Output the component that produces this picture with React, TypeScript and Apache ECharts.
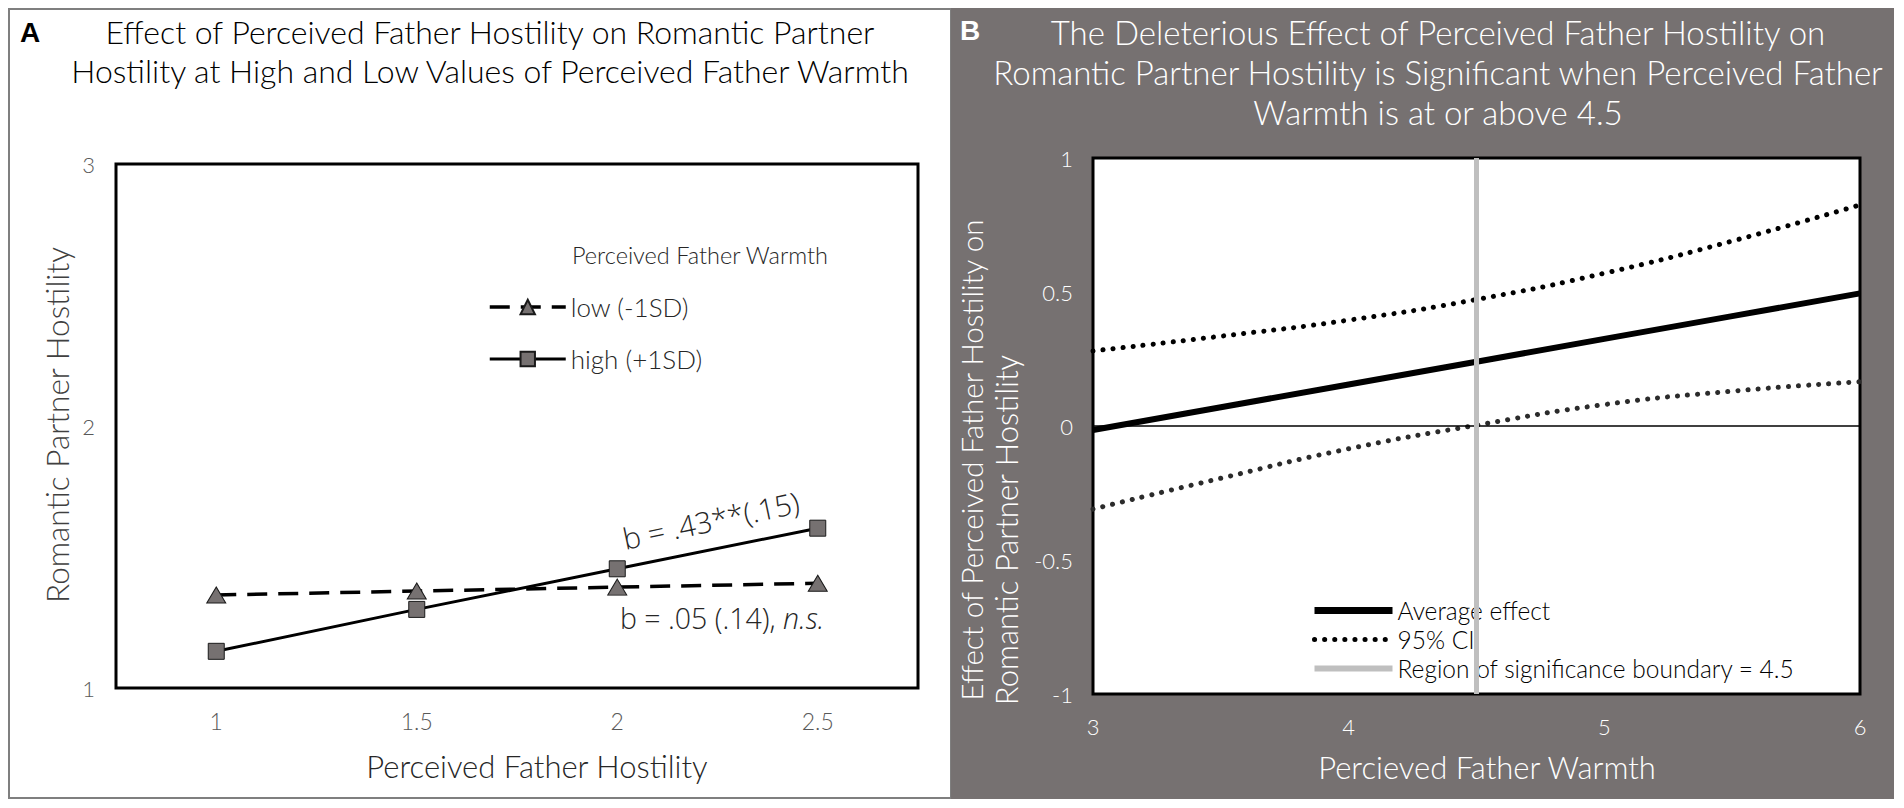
import React, { useEffect, useRef } from "react";
import * as echarts from "echarts";

// ---------- Panel A data ----------
const hostilityCategories = ["1", "1.5", "2", "2.5"];
const lowWarmthValues = [1.355, 1.37, 1.385, 1.4];
const highWarmthValues = [1.14, 1.3, 1.455, 1.61];
const panelAYRange = [1, 3];

// ---------- Panel B data ----------
const warmthPoints = [3, 3.5, 4, 4.5, 5, 5.5, 6];
const averageEffect = [-0.015, 0.07, 0.155, 0.24, 0.325, 0.41, 0.495];
const ciUpper = [0.28, 0.335, 0.395, 0.472, 0.57, 0.69, 0.825];
const ciLower = [-0.31, -0.195, -0.085, 0.003, 0.08, 0.13, 0.165];
const boundaryWarmth = 4.5;
const effectRange = [-1, 1];
const warmthRange = [3, 6];

const F = "Lato, 'Open Sans', sans-serif";
const FW = "'Open Sans', Lato, sans-serif";

function txt(
  text: string,
  x: number,
  y: number,
  size: number,
  fill: string,
  extra: any = {}
) {
  const { rotation, align, weight, family, rich, lineHeight } = extra;
  return {
    type: "text",
    x,
    y,
    rotation: rotation || 0,
    z: 10,
    silent: true,
    style: {
      text,
      fill,
      fontSize: size,
      fontFamily: family || F,
      fontWeight: weight || 300,
      align: align || "center",
      verticalAlign: "middle",
      lineHeight,
      rich,
    },
  };
}

export default function App() {
  const ref = useRef<HTMLDivElement>(null);
  useEffect(() => {
    if (!ref.current) return;
    const chart = echarts.init(ref.current, undefined, { renderer: "svg" });
    const white = "#ffffff";
    const hidden = { color: "rgba(0,0,0,0)", borderWidth: 0, opacity: 0 };
    const option: any = {
      animation: false,
      backgroundColor: "#ffffff",
      textStyle: { fontFamily: F },
      grid: [
        {
          left: 116,
          top: 164,
          width: 802,
          height: 524,
          show: true,
          backgroundColor: "#ffffff",
          borderColor: "#000000",
          borderWidth: 3,
          z: 1,
        },
        {
          left: 1093,
          top: 158,
          width: 767,
          height: 536,
          show: true,
          backgroundColor: "#ffffff",
          borderColor: "#000000",
          borderWidth: 3,
          z: 1,
        },
      ],
      xAxis: [
        {
          type: "category",
          gridIndex: 0,
          data: hostilityCategories,
          boundaryGap: true,
          axisLine: { show: false },
          axisTick: { show: false },
          splitLine: { show: false },
          axisLabel: { color: "#595959", fontSize: 23, margin: 21, fontWeight: 300 },
        },
        {
          type: "value",
          gridIndex: 1,
          min: warmthRange[0],
          max: warmthRange[1],
          interval: 1,
          axisLine: { show: false },
          axisTick: { show: false },
          splitLine: { show: false },
          axisLabel: { color: white, fontSize: 22, margin: 21, fontWeight: 300 },
        },
      ],
      yAxis: [
        {
          type: "value",
          gridIndex: 0,
          min: panelAYRange[0],
          max: panelAYRange[1],
          interval: 1,
          axisLine: { show: false },
          axisTick: { show: false },
          splitLine: { show: false },
          axisLabel: { color: "#595959", fontSize: 22, margin: 21, fontWeight: 300 },
        },
        {
          type: "value",
          gridIndex: 1,
          min: effectRange[0],
          max: effectRange[1],
          interval: 0.5,
          axisLine: { show: false },
          axisTick: { show: false },
          splitLine: { show: false },
          axisLabel: { color: white, fontSize: 22, margin: 20, fontWeight: 300 },
        },
      ],
      legend: [
        {
          data: [
            { name: "low (-1SD)", lineStyle: { width: 3.5 } },
            { name: "high (+1SD)", lineStyle: { width: 3 } },
          ],
          orient: "vertical",
          left: 483,
          top: 289,
          itemWidth: 76,
          itemHeight: 18,
          itemGap: 26,
          selectedMode: false,
          textStyle: { color: "#262626", fontSize: 26, fontWeight: 300, fontFamily: F },
        },
        {
          data: [
            { name: "Average effect", lineStyle: { width: 7 } },
            { name: "95% CI", lineStyle: { width: 5 } },
            { name: "Region of significance boundary = 4.5", lineStyle: { width: 6 } },
          ],
          orient: "vertical",
          left: 1306,
          top: 593,
          itemWidth: 78,
          itemHeight: 14,
          itemGap: 4,
          selectedMode: false,
          itemStyle: hidden,
          textStyle: { color: "#000000", fontSize: 24.5, fontWeight: 300, fontFamily: F },
        },
      ],
      series: [
        {
          name: "low (-1SD)",
          type: "line",
          xAxisIndex: 0,
          yAxisIndex: 0,
          data: lowWarmthValues,
          symbol: "triangle",
          symbolSize: [19, 16],
          lineStyle: { color: "#000000", width: 3.5, type: [20, 11] },
          itemStyle: { color: "#767171", borderColor: "#1a1a1a", borderWidth: 1 },
          z: 3,
        },
        {
          name: "high (+1SD)",
          type: "line",
          xAxisIndex: 0,
          yAxisIndex: 0,
          data: highWarmthValues,
          symbol: "rect",
          symbolSize: 16,
          lineStyle: { color: "#000000", width: 3 },
          itemStyle: { color: "#767171", borderColor: "#1a1a1a", borderWidth: 1 },
          z: 4,
        },
        {
          name: "Average effect",
          type: "line",
          xAxisIndex: 1,
          yAxisIndex: 1,
          data: warmthPoints.map((w, i) => [w, averageEffect[i]]),
          symbol: "none",
          lineStyle: { color: "#000000", width: 6 },
          itemStyle: { color: "#000000" },
          z: 3,
          markLine: {
            silent: true,
            symbol: "none",
            label: { show: false },
            lineStyle: { color: "#000000", width: 1.5, type: "solid" },
            data: [{ yAxis: 0 }],
          },
        },
        {
          name: "95% CI",
          type: "line",
          xAxisIndex: 1,
          yAxisIndex: 1,
          smooth: true,
          data: warmthPoints.map((w, i) => [w, ciUpper[i]]),
          symbol: "none",
          lineStyle: { color: "#000000", width: 5, type: [0.1, 10], cap: "round" },
          itemStyle: { color: "#000000" },
          z: 3,
        },
        {
          name: "95% CI",
          type: "line",
          xAxisIndex: 1,
          yAxisIndex: 1,
          smooth: true,
          data: warmthPoints.map((w, i) => [w, ciLower[i]]),
          symbol: "none",
          lineStyle: { color: "#2b2b2b", width: 5, type: [0.1, 10], cap: "round" },
          itemStyle: { color: "#2b2b2b" },
          z: 3,
        },
        {
          name: "Region of significance boundary = 4.5",
          type: "line",
          xAxisIndex: 1,
          yAxisIndex: 1,
          data: [
            [boundaryWarmth, effectRange[0]],
            [boundaryWarmth, effectRange[1]],
          ],
          symbol: "none",
          lineStyle: { color: "#bfbfbf", width: 5 },
          itemStyle: { color: "#bfbfbf" },
          z: 6,
        },
      ],
      graphic: [
        {
          type: "rect",
          z: -10,
          silent: true,
          shape: { x: 9, y: 9, width: 942, height: 789 },
          style: { fill: "#ffffff", stroke: "#7f7f7f", lineWidth: 2 },
        },
        {
          type: "rect",
          z: -9,
          silent: true,
          shape: { x: 951, y: 8, width: 943, height: 791 },
          style: { fill: "#767171" },
        },
        txt("A", 20, 32, 28, "#000000", { align: "left", weight: "bold", family: "'Liberation Sans', Arial, sans-serif" }),
        txt(
          "Effect of Perceived Father Hostility on Romantic Partner\nHostility at High and Low Values of Perceived Father Warmth",
          490,
          51,
          32,
          "#000000",
          { lineHeight: 39 }
        ),
        txt("Romantic Partner Hostility", 57, 425, 31.5, "#404040", { rotation: Math.PI / 2 }),
        txt("Perceived Father Hostility", 537, 766, 31, "#262626"),
        txt("Perceived Father Warmth", 572, 255, 23.5, "#262626", { align: "left" }),
        txt("b = .43**(.15)", 711, 520, 29.5, "#262626", { rotation: (12 * Math.PI) / 180, family: FW }),
        txt("b = .05 (.14), {i|n.s.}", 620, 618, 28.5, "#262626", {
          align: "left",
          family: FW,
          rich: { i: { fontStyle: "italic", fontSize: 28.5, fontFamily: FW, fontWeight: 300, fill: "#262626" } },
        }),
        txt("B", 960, 30, 28, white, { align: "left", weight: "bold", family: "'Liberation Sans', Arial, sans-serif" }),
        txt(
          "The Deleterious Effect of Perceived Father Hostility on\nRomantic Partner Hostility is Significant when Perceived Father\nWarmth is at or above 4.5",
          1438,
          72,
          33,
          white,
          { lineHeight: 40 }
        ),
        txt("Effect of Perceived Father Hostility on", 971, 460, 29.5, white, { rotation: Math.PI / 2 }),
        txt("Romantic Partner Hostility", 1006, 530, 31, white, { rotation: Math.PI / 2 }),
        txt("Percieved Father Warmth", 1487, 767, 31, white),
      ],
    };
    chart.setOption(option);
    return () => chart.dispose();
  }, []);
  return (
    <div
      ref={ref}
      style={{ position: "fixed", left: 0, top: 0, width: 1904, height: 808 }}
    />
  );
}
